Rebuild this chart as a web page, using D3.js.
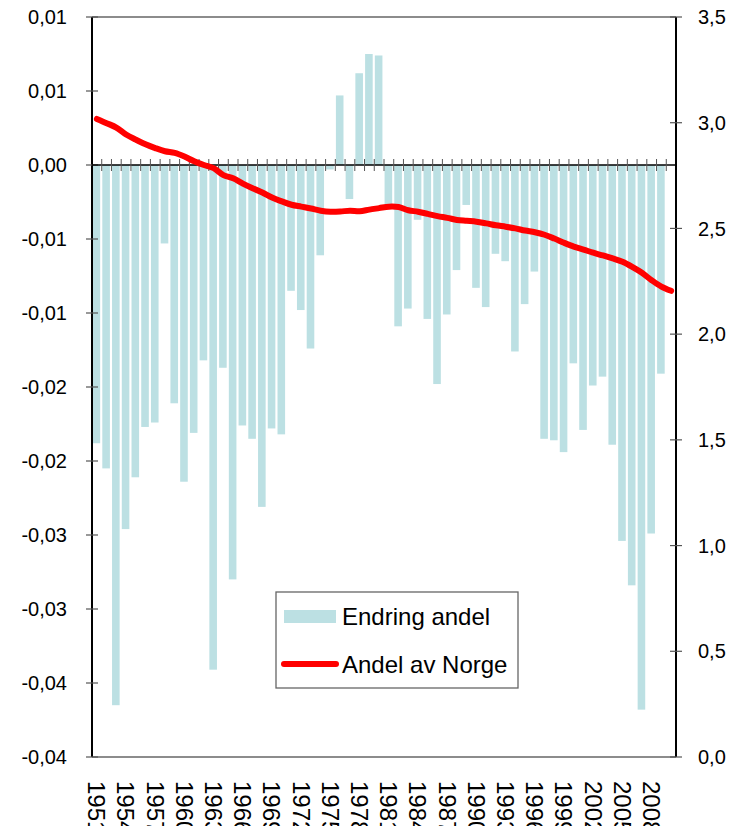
<!DOCTYPE html>
<html>
<head>
<meta charset="utf-8">
<script src="https://cdn.jsdelivr.net/npm/d3@7"></script>
<style>
    body { margin: 0; background: #fff; }
    text { font-family: "Liberation Sans", Arial, sans-serif; fill: #000; }
</style>
</head>
<body>
<svg id="chart" width="733" height="826"></svg>
<script>
// Years on the category axis (2010 has only the line value).
let years = [1951, 1952, 1953, 1954, 1955, 1956, 1957, 1958, 1959, 1960,
    1961, 1962, 1963, 1964, 1965, 1966, 1967, 1968, 1969, 1970,
    1971, 1972, 1973, 1974, 1975, 1976, 1977, 1978, 1979, 1980,
    1981, 1982, 1983, 1984, 1985, 1986, 1987, 1988, 1989, 1990,
    1991, 1992, 1993, 1994, 1995, 1996, 1997, 1998, 1999, 2000,
    2001, 2002, 2003, 2004, 2005, 2006, 2007, 2008, 2009, 2010];

// "Endring andel" - bars, left axis
let endringAndel = [-0.0188, -0.0205, -0.0365, -0.0246, -0.0211, -0.0177, -0.0174, -0.0053, -0.0161, -0.0214,
    -0.0181, -0.0132, -0.0341, -0.0137, -0.0280, -0.0176, -0.0185, -0.0231, -0.0178, -0.0182,
    -0.0085, -0.0098, -0.0124, -0.0061, -0.0003, 0.0047, -0.0023, 0.0062, 0.0075, 0.0074,
    -0.0027, -0.0109, -0.0097, -0.0037, -0.0104, -0.0148, -0.0101, -0.0071, -0.0027, -0.0083,
    -0.0096, -0.0060, -0.0065, -0.0126, -0.0094, -0.0072, -0.0185, -0.0186, -0.0194, -0.0134,
    -0.0179, -0.0149, -0.0143, -0.0189, -0.0254, -0.0284, -0.0368, -0.0249, -0.0141, null];

// "Andel av Norge" - line, right axis
let andelAvNorge = [3.018, 2.998, 2.977, 2.944, 2.920, 2.898, 2.880, 2.865, 2.857, 2.840,
    2.818, 2.800, 2.785, 2.752, 2.737, 2.712, 2.690, 2.670, 2.646, 2.628,
    2.612, 2.603, 2.594, 2.584, 2.579, 2.580, 2.584, 2.581, 2.589, 2.596,
    2.603, 2.601, 2.586, 2.579, 2.569, 2.558, 2.550, 2.540, 2.536, 2.532,
    2.524, 2.515, 2.508, 2.500, 2.490, 2.482, 2.470, 2.452, 2.432, 2.414,
    2.400, 2.385, 2.372, 2.358, 2.342, 2.318, 2.290, 2.255, 2.225, 2.205];

// Tick values and the labels as printed (two decimals, comma)
let leftTicks = [-0.04, -0.035, -0.03, -0.025, -0.02, -0.015, -0.01, -0.005, 0, 0.005, 0.01];
let leftTickLabels = ["-0,04", "-0,04", "-0,03", "-0,03", "-0,02", "-0,02", "-0,01", "-0,01", "0,00", "0,01", "0,01"];
let rightTicks = [0, 0.5, 1, 1.5, 2, 2.5, 3, 3.5];
let rightTickLabels = ["0,0", "0,5", "1,0", "1,5", "2,0", "2,5", "3,0", "3,5"];
let yearLabels = [1951, 1954, 1957, 1960, 1963, 1966, 1969, 1972, 1975, 1978,
    1981, 1984, 1987, 1990, 1993, 1996, 1999, 2002, 2005, 2008];

let barColor = "#bce0e3";
let lineColor = "#ff0000";

let plotLeft = 92, plotRight = 676, plotTop = 17, plotBottom = 757;

let svg = d3.select("#chart");

// Scales
let x = d3.scaleBand().domain(years).range([plotLeft, plotRight]).padding(0);
let yLeft = d3.scaleLinear().domain([-0.04, 0.01]).range([plotBottom, plotTop]);
let yRight = d3.scaleLinear().domain([0, 3.5]).range([plotBottom, plotTop]);

let barW = x.bandwidth() * 0.78;

// Top and bottom frame lines (gray)
svg.append("line").attr("x1", plotLeft).attr("x2", plotRight).attr("y1", plotTop).attr("y2", plotTop)
    .attr("stroke", "#8c8c8c").attr("stroke-width", 2);
svg.append("line").attr("x1", plotLeft).attr("x2", plotRight).attr("y1", plotBottom).attr("y2", plotBottom)
    .attr("stroke", "#8c8c8c").attr("stroke-width", 2);

// Bars
let barData = years.map((yr, i) => ({year: yr, v: endringAndel[i]})).filter(d => d.v != null);
svg.append("g")
    .selectAll("rect")
    .data(barData)
    .enter().append("rect")
    .attr("x", d => x(d.year) + (x.bandwidth() - barW) / 2 - 0.5)
    .attr("width", barW)
    .attr("y", d => Math.min(yLeft(d.v), yLeft(0)))
    .attr("height", d => Math.abs(yLeft(d.v) - yLeft(0)))
    .attr("fill", barColor);

// Left axis (ticks cross the axis line)
let leftAxis = svg.append("g");
leftAxis.append("line").attr("x1", plotLeft).attr("x2", plotLeft).attr("y1", plotTop).attr("y2", plotBottom)
    .attr("stroke", "#000").attr("stroke-width", 2);
leftAxis.selectAll(".tk").data(leftTicks).enter().append("line")
    .attr("x1", plotLeft - 6).attr("x2", plotLeft + 6)
    .attr("y1", d => yLeft(d)).attr("y2", d => yLeft(d))
    .attr("stroke", "#555").attr("stroke-width", 1.2);
leftAxis.selectAll("text").data(leftTicks).enter().append("text")
    .attr("x", 67)
    .attr("y", d => yLeft(d))
    .attr("dy", "0.36em")
    .attr("text-anchor", "end")
    .style("font-size", "20px")
    .text((d, i) => leftTickLabels[i]);

// Right axis
let rightAxis = svg.append("g");
rightAxis.append("line").attr("x1", plotRight).attr("x2", plotRight).attr("y1", plotTop).attr("y2", plotBottom)
    .attr("stroke", "#000").attr("stroke-width", 2);
rightAxis.selectAll(".tk").data(rightTicks).enter().append("line")
    .attr("x1", plotRight - 6).attr("x2", plotRight + 6)
    .attr("y1", d => yRight(d)).attr("y2", d => yRight(d))
    .attr("stroke", "#555").attr("stroke-width", 1.2);
rightAxis.selectAll("text").data(rightTicks).enter().append("text")
    .attr("x", 698)
    .attr("y", d => yRight(d))
    .attr("dy", "0.36em")
    .style("font-size", "20px")
    .text((d, i) => rightTickLabels[i]);

// Category axis at zero, tick marks between categories
let zeroY = yLeft(0);
svg.append("line").attr("x1", plotLeft).attr("x2", plotRight).attr("y1", zeroY).attr("y2", zeroY)
    .attr("stroke", "#000").attr("stroke-width", 1.5);
svg.append("g")
    .selectAll("line")
    .data(years.slice(1))
    .enter().append("line")
    .attr("x1", d => x(d)).attr("x2", d => x(d))
    .attr("y1", zeroY - 6).attr("y2", zeroY + 6)
    .attr("stroke", "#555").attr("stroke-width", 1);

// Year labels, rotated to read top to bottom
svg.append("g")
    .selectAll("text")
    .data(yearLabels)
    .enter().append("text")
    .attr("transform", d => "translate(" + (x(d) + x.bandwidth() / 2) + ",781) rotate(90)")
    .attr("dy", "0.36em")
    .style("font-size", "24px")
    .text(d => d);

// Line on the right axis
let line = d3.line()
    .x((d, i) => x(years[i]) + x.bandwidth() / 2)
    .y(d => yRight(d))
    .curve(d3.curveCatmullRom);
svg.append("path")
    .datum(andelAvNorge)
    .attr("d", line)
    .attr("fill", "none")
    .attr("stroke", lineColor)
    .attr("stroke-width", 6)
    .attr("stroke-linecap", "round")
    .attr("stroke-linejoin", "round");

// Legend
let legend = svg.append("g");
legend.append("rect")
    .attr("x", 276).attr("y", 592).attr("width", 242).attr("height", 96)
    .attr("fill", "#fff").attr("stroke", "#666").attr("stroke-width", 1.3);
legend.append("rect")
    .attr("x", 284).attr("y", 610).attr("width", 52).attr("height", 13)
    .attr("fill", barColor);
legend.append("line")
    .attr("x1", 284).attr("x2", 336).attr("y1", 664).attr("y2", 664)
    .attr("stroke", lineColor).attr("stroke-width", 6).attr("stroke-linecap", "round");
legend.append("text").attr("x", 342).attr("y", 625).style("font-size", "24px").text("Endring andel");
legend.append("text").attr("x", 342).attr("y", 673).style("font-size", "24px").text("Andel av Norge");
</script>
</body>
</html>
